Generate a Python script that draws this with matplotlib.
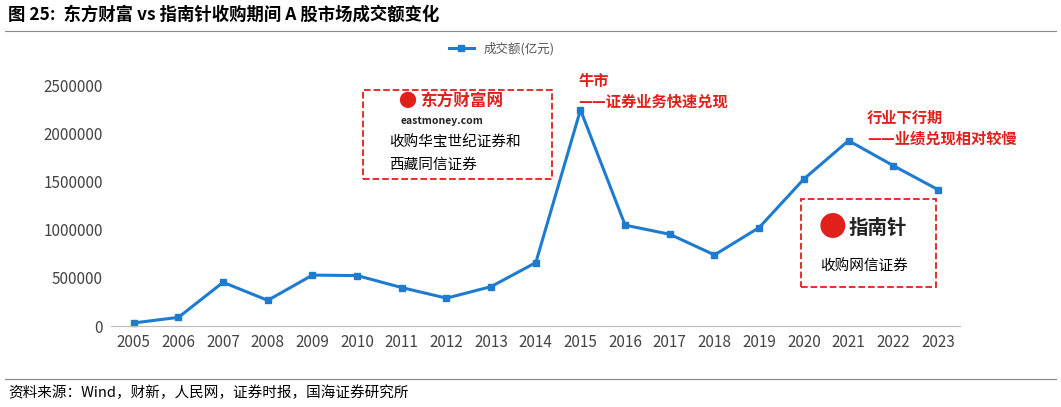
import matplotlib.pyplot as plt
from matplotlib.patches import Rectangle
plt.rcParams['font.family'] = ['Noto Sans CJK SC', 'DejaVu Sans']

years = [str(y) for y in range(2005, 2024)]
volume = [32000, 90000, 455000, 267000, 530000, 525000, 400000, 290000, 410000, 660000,
          2250000, 1050000, 955000, 740000, 1025000, 1530000, 1930000, 1670000, 1420000]
yticks = [0, 500000, 1000000, 1500000, 2000000, 2500000]

fig = plt.figure(figsize=(10.61, 4.07), dpi=100)
ax = fig.add_axes([0.105, 0.199, 0.8, 0.59])
x = range(len(years))
ax.plot(x, volume, color='#1f7bd0', lw=2.2, marker='s', ms=5, label='成交额(亿元)', clip_on=False)
ax.set_ylim(0, 2500000)
ax.set_xlim(-0.5, len(years) - 0.5)
ax.set_xticks(list(x)); ax.set_xticklabels(years, fontsize=11, color='#444')
ax.set_yticks(yticks); ax.set_yticklabels([str(v) for v in yticks], fontsize=11, color='#444')
ax.tick_params(length=0, pad=6)
for s in ['top', 'right', 'left']:
    ax.spines[s].set_visible(False)
ax.spines['bottom'].set_color('#bbbbbb')
ax.legend(loc='lower center', bbox_to_anchor=(0.46, 1.08), frameon=False, fontsize=9,
          handlelength=2, labelcolor='#555')

fig.text(0.008, 0.965, '图 25:  东方财富 vs 指南针收购期间 A 股市场成交额变化', fontsize=12.5,
         fontweight='bold', va='center')
fig.add_artist(plt.Line2D([0.005, 0.995], [0.925, 0.925], color='#888', lw=0.8))
fig.add_artist(plt.Line2D([0.005, 0.995], [0.07, 0.07], color='#888', lw=0.8))
fig.text(0.008, 0.035, '资料来源：Wind，财新，人民网，证券时报，国海证券研究所', fontsize=10.5, va='center')

red = '#e0201b'
fig.text(0.545, 0.8, '牛市', color=red, fontsize=11, fontweight='bold', va='center')
fig.text(0.545, 0.75, '——证券业务快速兑现', color=red, fontsize=11, fontweight='bold', va='center')
fig.text(0.817, 0.71, '行业下行期', color=red, fontsize=11, fontweight='bold', va='center')
fig.text(0.817, 0.66, '——业绩兑现相对较慢', color=red, fontsize=11, fontweight='bold', va='center')

# boxes
fig.add_artist(Rectangle((0.342, 0.56), 0.178, 0.22, transform=fig.transFigure, fill=False,
                         ec=red, ls='--', lw=1.3))
fig.text(0.375, 0.75, '●', color=red, fontsize=13, va='center')
fig.text(0.396, 0.75, '东方财富网', color=red, fontsize=12, fontweight='bold', va='center')
fig.text(0.378, 0.702, 'eastmoney.com', color='#222', fontsize=7.5, fontweight='bold', va='center')
fig.text(0.367, 0.65, '收购华宝世纪证券和', fontsize=10.5, va='center')
fig.text(0.367, 0.595, '西藏同信证券', fontsize=10.5, va='center')

fig.add_artist(Rectangle((0.755, 0.295), 0.127, 0.215, transform=fig.transFigure, fill=False,
                         ec=red, ls='--', lw=1.3))
fig.text(0.772, 0.44, '●', color=red, fontsize=20, va='center')
fig.text(0.8, 0.44, '指南针', color='#222', fontsize=14, fontweight='bold', va='center')
fig.text(0.773, 0.345, '收购网信证券', fontsize=10.5, va='center')

fig.savefig('out.png', dpi=100)
